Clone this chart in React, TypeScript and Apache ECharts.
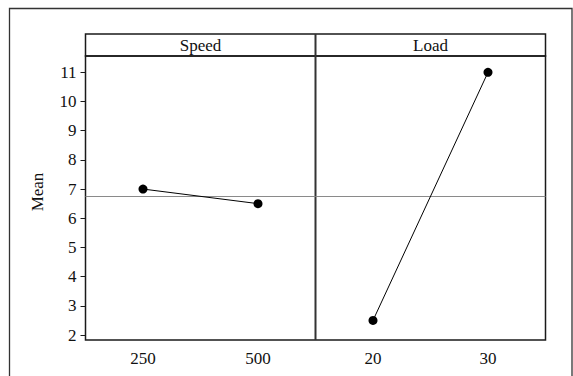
import React, { useEffect, useRef } from "react";
import * as echarts from "echarts";

const speedLevels = ["250", "500"];
const speedMeans = [7.0, 6.5];
const loadLevels = ["20", "30"];
const loadMeans = [2.5, 11.0];
const grandMean = 6.75;
const panelTitles = ["Speed", "Load"];
const yTicks = { min: 2, max: 11, interval: 1 };

const FONT = '"Liberation Serif", "Times New Roman", "DejaVu Serif", serif';

export default function App() {
  const ref = useRef<HTMLDivElement>(null);
  useEffect(() => {
    document.body.style.margin = "0";
    const chart = echarts.init(ref.current!, null, { renderer: "svg" });
    const gridTop = 72.3;
    const gridBottom = 376 - 335;
    const panelLeft = 85.5;
    const panelW = 230;
    const frameTop = 56;
    const frameBottom = 340;
    const headerTop = 34;
    const lineColor = "#1a1a1a";

    const mkX = (idx: number, data: string[]) => ({
      type: "category",
      gridIndex: idx,
      data,
      boundaryGap: true,
      offset: 5,
      axisLine: { show: false },
      axisTick: { show: false },
      axisLabel: { fontFamily: FONT, fontSize: 17, color: "#111", margin: 10 },
      splitLine: { show: false },
    });
    const mkY = (idx: number, show: boolean) => ({
      type: "value",
      gridIndex: idx,
      min: yTicks.min,
      max: yTicks.max,
      interval: yTicks.interval,
      axisLine: { show: false },
      axisTick: { show: show, length: 5, lineStyle: { color: lineColor } },
      axisLabel: { show: show, fontFamily: FONT, fontSize: 17, color: "#111", margin: 9 },
      splitLine: { show: false },
    });
    const mkSeries = (idx: number, data: number[]) => ({
      type: "line",
      xAxisIndex: idx,
      yAxisIndex: idx,
      data,
      symbol: "circle",
      symbolSize: 9,
      lineStyle: { color: "#000", width: 1 },
      itemStyle: { color: "#000" },
      markLine: {
        silent: true,
        symbol: "none",
        label: { show: false },
        lineStyle: { color: "#8a8a8a", width: 1.2, type: "solid" },
        data: [{ yAxis: grandMean }],
      },
      z: 5,
    });

    chart.setOption({
      animation: false,
      backgroundColor: "#fff",
      textStyle: { fontFamily: FONT },
      grid: [
        { left: panelLeft, width: panelW, top: gridTop, bottom: gridBottom },
        { left: panelLeft + panelW, width: panelW, top: gridTop, bottom: gridBottom },
      ],
      xAxis: [mkX(0, speedLevels), mkX(1, loadLevels)],
      yAxis: [mkY(0, true), mkY(1, false)],
      series: [mkSeries(0, speedMeans), mkSeries(1, loadMeans)],
      graphic: [
        {
          type: "rect",
          shape: { x: 9.5, y: 8.5, width: 562.5, height: 400 },
          style: { fill: "none", stroke: "#333", lineWidth: 1.3 },
          silent: true,
        },
        {
          type: "rect",
          shape: { x: panelLeft, y: headerTop, width: panelW * 2, height: frameTop - headerTop },
          style: { fill: "none", stroke: lineColor, lineWidth: 1.5 },
          silent: true,
        },
        {
          type: "rect",
          shape: { x: panelLeft, y: frameTop, width: panelW * 2, height: frameBottom - frameTop },
          style: { fill: "none", stroke: lineColor, lineWidth: 1.5 },
          silent: true,
        },
        {
          type: "line",
          shape: { x1: panelLeft + panelW, y1: headerTop, x2: panelLeft + panelW, y2: frameBottom },
          style: { stroke: "#333", lineWidth: 2 },
          silent: true,
        },
        ...panelTitles.map((t, i) => ({
          type: "text",
          x: panelLeft + panelW * i + panelW / 2,
          y: (headerTop + frameTop) / 2,
          style: {
            text: t,
            fontFamily: FONT,
            fontSize: 17,
            fill: "#111",
            textAlign: "center",
            textVerticalAlign: "middle",
          },
          silent: true,
        })),
        {
          type: "text",
          x: 37,
          y: 192,
          rotation: Math.PI / 2,
          style: {
            text: "Mean",
            fontFamily: FONT,
            fontSize: 17,
            fill: "#111",
            textAlign: "center",
            textVerticalAlign: "middle",
          },
          silent: true,
        },
      ],
    });
    return () => chart.dispose();
  }, []);
  return <div ref={ref} style={{ width: 573, height: 376 }} />;
}
